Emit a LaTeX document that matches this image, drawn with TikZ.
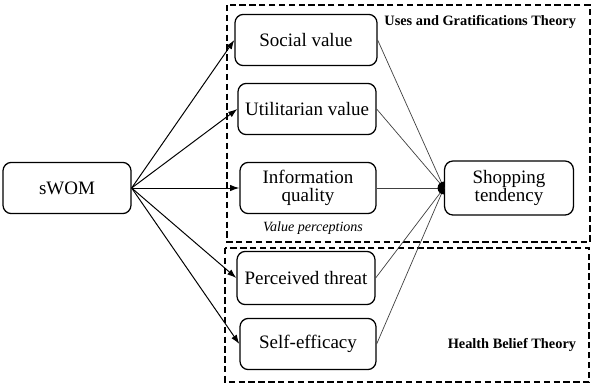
\documentclass[tikz,border=0pt]{standalone}
\usepackage{fontspec}
\setmainfont{Liberation Serif}
\usepackage{tikz}
\usetikzlibrary{arrows.meta}

\begin{document}
\begin{tikzpicture}[x=0.025cm, y=-0.025cm,
    box/.style={draw, line width=0.9pt, rounded corners=6pt, align=center,
      minimum width=3.45cm, minimum height=1.28cm, font=\fontsize{13.5}{15}\selectfont},
    link/.style={-{Latex[length=2.3mm, width=1.6mm]}, line width=0.7pt},
    feed/.style={line width=0.5pt, black!75},
    theory/.style={draw, line width=1.1pt, dash pattern=on 4.5pt off 2.5pt}]
  \useasboundingbox (0,0) rectangle (600,390);

  % theory frames
  \draw[theory] (227,5) rectangle (590,242);
  \draw[theory] (225,248) rectangle (589,382);
  \node[anchor=east, font=\bfseries\fontsize{10.2}{12}\selectfont] (ugt) at (581,22) {Uses and Gratifications Theory};
  \node[anchor=east, font=\bfseries\fontsize{10.2}{12}\selectfont] (hbt) at (581,345) {Health Belief Theory};
  \node[font=\itshape\fontsize{10}{12}\selectfont] (vp) at (313,228) {Value perceptions};

  % constructs
  \node[box, minimum width=3.2cm] (swom) at (67,188) {sWOM};
  \node[box, minimum width=3.55cm] (social) at (306,40) {Social value};
  \node[box] (util) at (307,109) {Utilitarian value};
  \node[box, minimum width=3.4cm] (info) at (308,188) {Information\\[-2pt]quality};
  \node[box, minimum height=1.33cm] (threat) at (306,278) {Perceived threat};
  \node[box, minimum width=3.4cm] (self) at (308,344) {Self-efficacy};
  \node[box, minimum width=3.22cm, minimum height=1.35cm] (shop) at (509,188) {Shopping\\[-2pt]tendency};

  % sWOM to perceptions
  \foreach \t in {social,util,info,threat,self}
    \draw[link] (swom.east) -- (\t.west);

  % perceptions to shopping tendency
  \foreach \t in {social,util,info,threat,self}
    \draw[feed] (\t.east) -- (shop.west);
  \fill (shop.west) ++(0,0.16cm) arc (90:270:0.16cm) -- cycle;
\end{tikzpicture}
\end{document}
